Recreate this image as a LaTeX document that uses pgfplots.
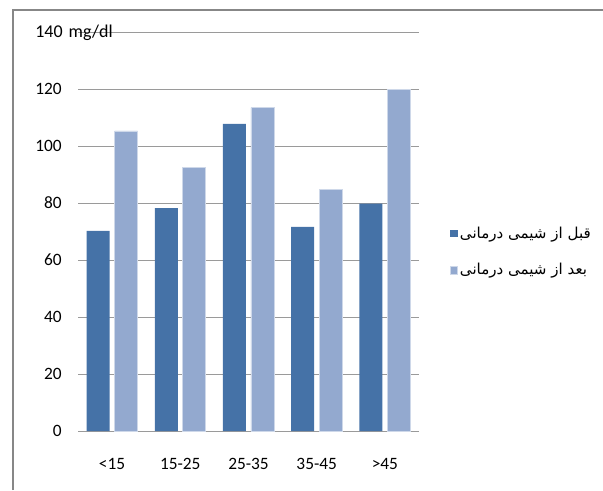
\documentclass[border=0pt]{standalone}
\usepackage{pgfplots}
\pgfplotsset{compat=1.18}
\usepackage{fontspec}
\setmainfont{Carlito}
\newfontfamily\arabicfont[Script=Arabic]{DejaVu Sans}
\TeXXeTstate=1
\definecolor{before}{HTML}{4572A7}
\definecolor{after}{HTML}{93A9CF}
\definecolor{gridgray}{HTML}{9A9A9A}
\definecolor{framegray}{HTML}{878787}

\begin{document}
\begin{tikzpicture}
\useasboundingbox (0,0) rectangle (452.25pt,-367.5pt);
% outer chart frame (top and left edges)
\draw[framegray, line width=1.5pt] (9.75pt,-367.5pt) -- (9.75pt,-7.5pt) -- (452.25pt,-7.5pt);
\begin{axis}[
  at={(58.5pt,-323.25pt)}, anchor=south west,
  scale only axis, width=255.75pt, height=299.25pt,
  xmin=-0.5, xmax=4.5, ymin=0, ymax=140,
  ybar=3.75pt, bar width=17.25pt,
  xtick={0,...,4},
  xticklabels={<15,15-25,25-35,35-45,>45},
  ytick={0,20,...,140},
  yticklabels={0,20,40,60,80,100,120,{}},
  /pgf/number format/assume math mode=true,
  ymajorgrids, grid style={gridgray, line width=0.75pt},
  axis x line=bottom, axis y line=left,
  x axis line style={gridgray, line width=0.75pt, -},
  y axis line style={draw=none},
  major tick length=0pt,
  tick style={draw=none},
  ticklabel style={font=\fontsize{13}{15}\selectfont},
  yticklabel style={anchor=east, inner sep=0pt, xshift=-12pt},
  xticklabel style={anchor=base, inner sep=0pt, yshift=-29pt},
  legend image code/.code={\fill[#1] (0pt,-2.75pt) rectangle (5.5pt,2.75pt);},
  legend style={at={(1.078,0.449)}, anchor=west, draw=none, fill=none,
    font=\fontsize{11.3}{13}\selectfont, row sep=14.5pt,
    nodes={inner sep=1.5pt}},
  legend cell align=left,
  clip=false,
]
\addplot[fill=before, draw=none]
  coordinates {(0,70.2) (1,78.2) (2,107.8) (3,71.6) (4,79.8)};
\addlegendentry{\arabicfont\beginR قبل از شیمی درمانی\endR}
\addplot[fill=after, draw=white!55!after, line width=0.6pt]
  coordinates {(0,105.3) (1,92.5) (2,113.5) (3,84.8) (4,119.8)};
\addlegendentry{\arabicfont\beginR بعد از شیمی درمانی\endR}
\end{axis}
% unit label on the top tick
\node[anchor=base west, inner sep=0pt, font=\fontsize{13.5}{15}\selectfont] at (26.25pt,-27.75pt) {140\hspace{1.5pt} mg/dl};
\end{tikzpicture}
\end{document}
